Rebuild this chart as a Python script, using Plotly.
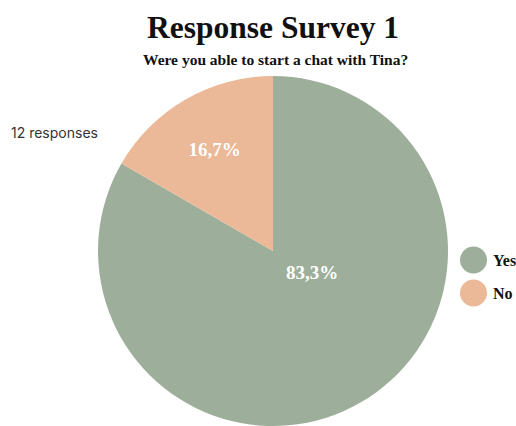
import plotly.graph_objects as go

labels = ["Yes", "No"]
counts = [10, 2]
colors = ["#9daf9a", "#ebb898"]
title_text = "Response Survey 1"
subtitle_text = "Were you able to start a chat with Tina?"
responses_text = "12 responses"

W, H = 516, 426
serif = "Liberation Serif"
total = sum(counts)

# the large slice gets its label placed by hand, the small one uses the pie's own text
slice_text = ["" if lab == "Yes" else "%{percent:.1%}" for lab in labels]

fig = go.Figure(go.Pie(
    labels=labels,
    values=counts,
    marker=dict(colors=colors, line=dict(width=0)),
    sort=False,
    direction="clockwise",
    rotation=0,
    texttemplate=slice_text,
    textposition="inside",
    insidetextfont=dict(family=serif, size=19, color="white", weight="bold"),
    showlegend=False,
    domain=dict(x=[98 / W, 448 / W], y=[0, 350 / H]),
    hoverinfo="label+percent",
))

yes_pct = f"{100 * counts[0] / total:.1f}%".replace(".", ",")

annotations = [
    dict(text=title_text, x=273 / W, y=1 - 27 / H, xref="paper", yref="paper",
         showarrow=False, font=dict(family=serif, size=31.5, color="#111111", weight="bold"),
         xanchor="center", yanchor="middle"),
    dict(text=subtitle_text, x=275 / W, y=1 - 59 / H, xref="paper", yref="paper",
         showarrow=False, font=dict(family=serif, size=15.5, color="#111111", weight="bold"),
         xanchor="center", yanchor="middle"),
    dict(text=responses_text, x=9 / W, y=1 - 133 / H, xref="paper", yref="paper",
         showarrow=False, font=dict(family="Inter", size=14, color="#333333"),
         xanchor="left", yanchor="middle"),
    dict(text=yes_pct, x=312 / W, y=1 - 272 / H, xref="paper", yref="paper",
         showarrow=False, font=dict(family=serif, size=19, color="white", weight="bold"),
         xanchor="center", yanchor="middle"),
]

# custom legend with round swatches
shapes = []
legend_y = [260, 293]
for lab, col, yy in zip(labels, colors, legend_y):
    shapes.append(dict(type="circle", xref="paper", yref="paper",
                       x0=460 / W, x1=487 / W, y0=1 - (yy + 13.5) / H, y1=1 - (yy - 13.5) / H,
                       fillcolor=col, line=dict(width=0)))
    annotations.append(dict(text=lab, x=491 / W, y=1 - yy / H, xref="paper", yref="paper",
                            showarrow=False, font=dict(family=serif, size=16, color="#111111", weight="bold"),
                            xanchor="left", yanchor="middle"))

fig.update_layout(
    width=W, height=H,
    margin=dict(l=0, r=0, t=0, b=0),
    paper_bgcolor="white",
    plot_bgcolor="white",
    separators=",.",
    annotations=annotations,
    shapes=shapes,
)

fig.write_html("out.html")
